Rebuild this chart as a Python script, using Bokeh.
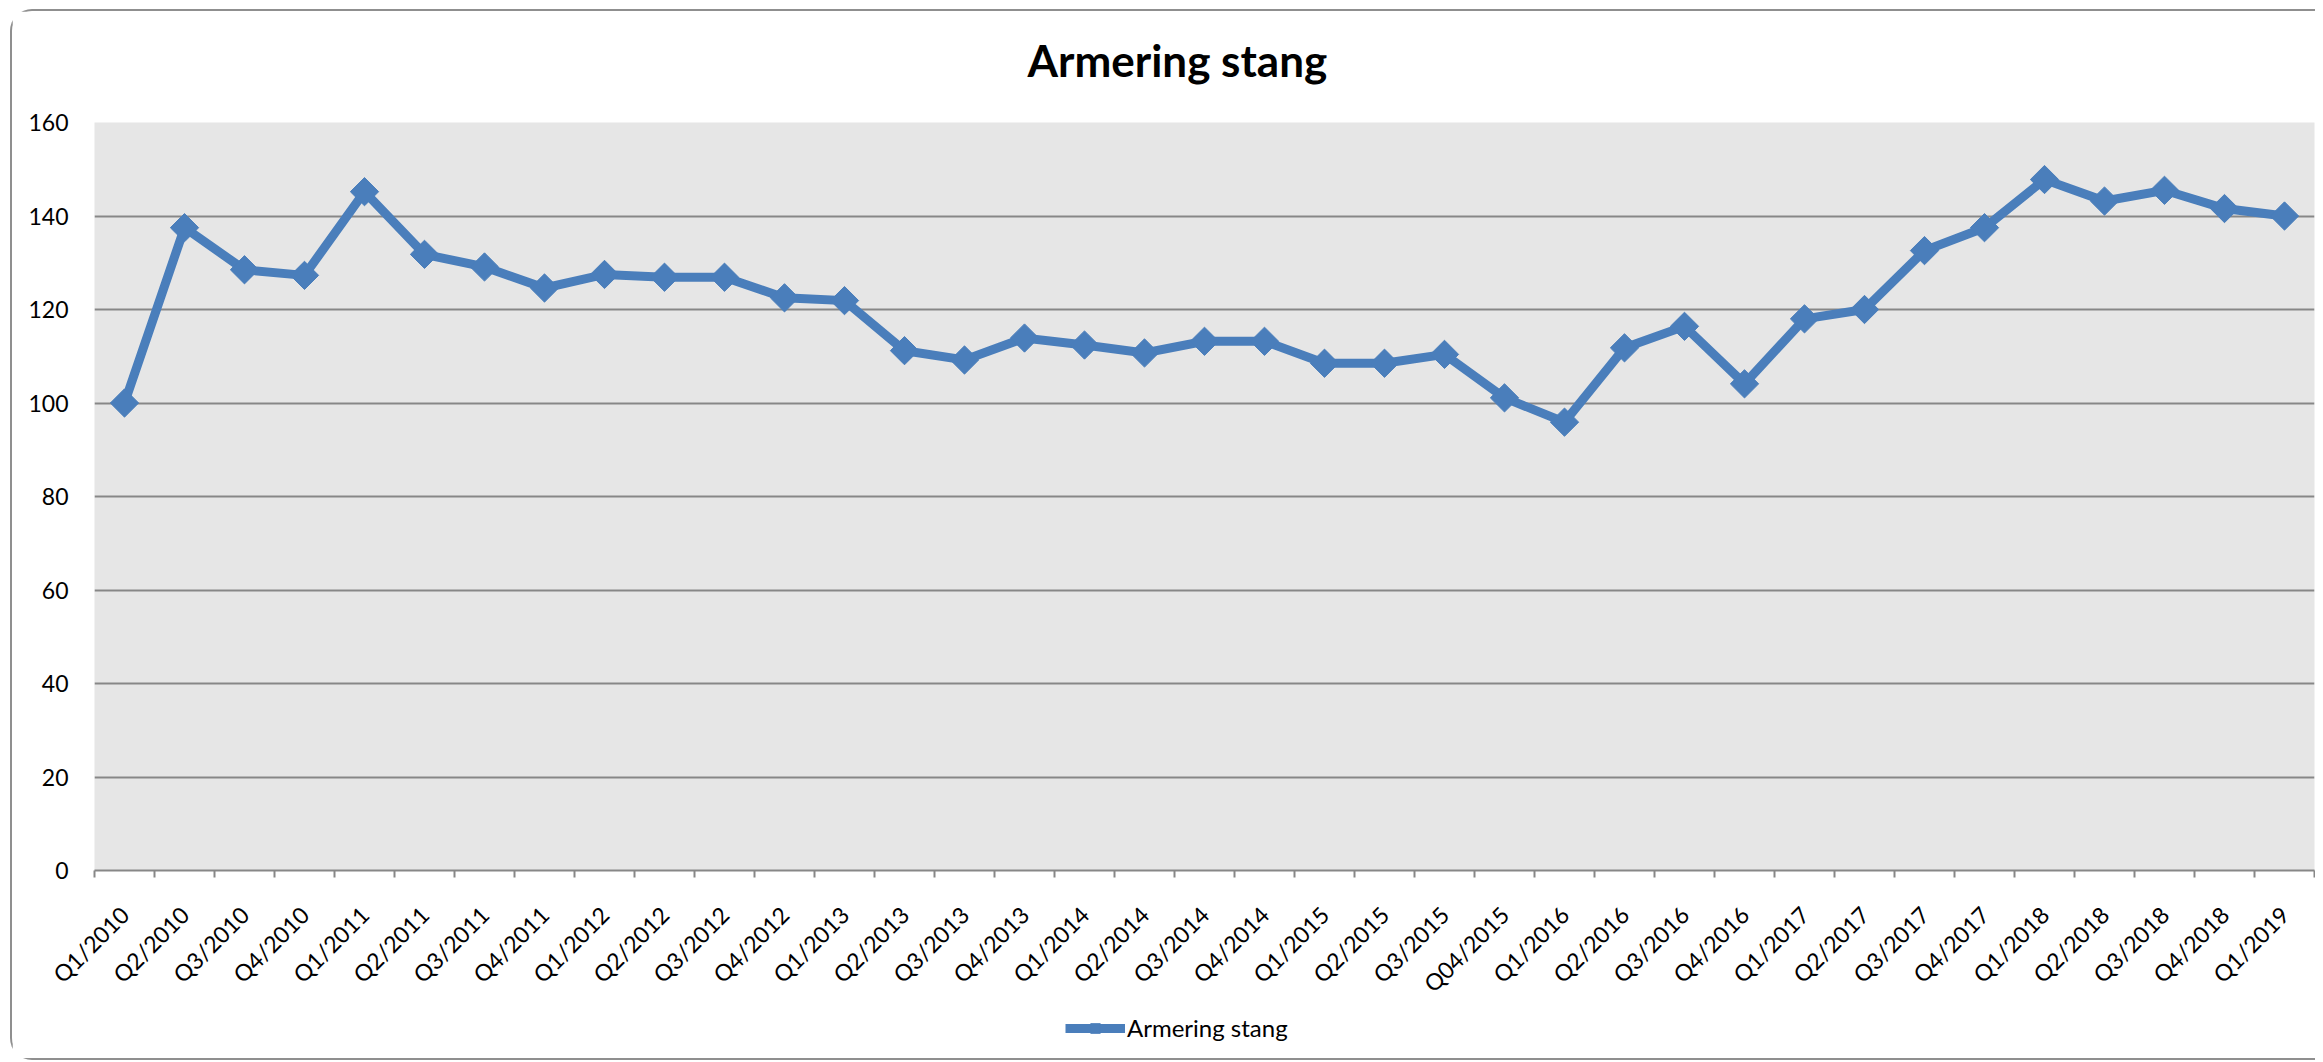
import math
from bokeh.plotting import figure
from bokeh.layouts import column
from bokeh.models import Range1d, FixedTicker, Legend, LegendItem, ColumnDataSource, Title
from bokeh.embed import file_html
from bokeh.resources import INLINE

title_text = "Armering stang"
series_name = "Armering stang"

quarters = [
    "Q1/2010", "Q2/2010", "Q3/2010", "Q4/2010",
    "Q1/2011", "Q2/2011", "Q3/2011", "Q4/2011",
    "Q1/2012", "Q2/2012", "Q3/2012", "Q4/2012",
    "Q1/2013", "Q2/2013", "Q3/2013", "Q4/2013",
    "Q1/2014", "Q2/2014", "Q3/2014", "Q4/2014",
    "Q1/2015", "Q2/2015", "Q3/2015", "Q04/2015",
    "Q1/2016", "Q2/2016", "Q3/2016", "Q4/2016",
    "Q1/2017", "Q2/2017", "Q3/2017", "Q4/2017",
    "Q1/2018", "Q2/2018", "Q3/2018", "Q4/2018",
    "Q1/2019",
]

values = [
    100.0, 137.5, 128.5, 127.3,
    145.2, 131.8, 129.1, 124.6,
    127.5, 126.9, 126.9, 122.5,
    121.9, 111.2, 109.2, 113.9,
    112.4, 110.7, 113.2, 113.2,
    108.5, 108.5, 110.4, 101.1,
    95.9, 111.8, 116.4, 104.1,
    118.0, 120.0, 132.6, 137.5,
    147.8, 143.2, 145.5, 141.6,
    140.0,
]

y_ticks = [0, 20, 40, 60, 80, 100, 120, 140, 160]

FONT = "Lato"
BLUE = "#4A7EBB"
GRID = "#878787"
W = 2303

idx = list(range(len(quarters)))
src = ColumnDataSource(data=dict(x=idx, y=values, q=quarters))

p = figure(
    width=W, height=999,
    output_backend="svg", toolbar_location=None, title_location=None,
    x_range=Range1d(-0.5, len(quarters) - 0.5),
    y_range=Range1d(y_ticks[0], y_ticks[-1]),
    min_border_left=82, min_border_right=1,
    min_border_top=111, min_border_bottom=140,
)

# spacer between the frame and the title, then the title itself
p.add_layout(Title(text=" ", text_font_size="1px", standoff=17), "above")
p.add_layout(Title(text=title_text, align="left", offset=933, text_font=FONT,
                   text_font_size="44px", text_font_style="bold",
                   text_color="black", standoff=34), "above")

p.background_fill_color = "#E6E6E6"
p.border_fill_color = "white"
p.outline_line_color = None

# grid
p.xgrid.grid_line_color = None
p.ygrid.grid_line_color = GRID
p.ygrid.grid_line_width = 2
p.ygrid.ticker = FixedTicker(ticks=y_ticks)

# y axis
p.yaxis.ticker = FixedTicker(ticks=y_ticks)
p.yaxis.axis_line_color = None
p.yaxis.major_tick_line_color = None
p.yaxis.minor_tick_line_color = None
p.yaxis.major_tick_out = 0
p.yaxis.major_tick_in = 0
p.yaxis.minor_tick_out = 0
p.yaxis.major_label_standoff = 26
p.yaxis.major_label_text_font = FONT
p.yaxis.major_label_text_font_size = "23px"
p.yaxis.major_label_text_color = "black"

# x axis: labels at category centres, tick marks between categories
p.xaxis.ticker = FixedTicker(ticks=idx, minor_ticks=[i - 0.5 for i in range(len(quarters) + 1)])
p.xaxis.major_label_overrides = {i: q for i, q in zip(idx, quarters)}
p.xaxis.major_label_orientation = math.pi / 4
p.xaxis.major_label_text_font = FONT
p.xaxis.major_label_text_font_size = "23px"
p.xaxis.major_label_text_color = "black"
p.xaxis.major_label_standoff = 33
p.xaxis.major_tick_line_color = None
p.xaxis.major_tick_out = 0
p.xaxis.major_tick_in = 0
p.xaxis.minor_tick_line_color = GRID
p.xaxis.minor_tick_line_width = 2
p.xaxis.minor_tick_out = 7
p.xaxis.minor_tick_in = 0
p.xaxis.axis_line_color = GRID
p.xaxis.axis_line_width = 2

p.line("x", "y", source=src, line_color=BLUE, line_width=9, line_join="miter")
p.scatter("x", "y", source=src, marker="square", angle=math.pi / 4, size=20,
          fill_color=BLUE, line_color=BLUE)

# legend strip below the chart (its frame is aligned with the chart's frame)
p2 = figure(
    width=W, height=48,
    output_backend="svg", toolbar_location=None,
    x_axis_type=None, y_axis_type=None,
    min_border_left=82, min_border_right=1, min_border_top=0, min_border_bottom=0,
)
p2.outline_line_color = None
p2.background_fill_color = "white"
p2.border_fill_color = "white"
p2.grid.visible = False
lr = p2.line("x", "y", source=src, line_color=BLUE, line_width=9, visible=False)
lm = p2.scatter("x", "y", source=src, marker="square", angle=math.pi / 4, size=11,
                fill_color=BLUE, line_color=BLUE, visible=False)

legend = Legend(items=[LegendItem(label=series_name, renderers=[lr, lm])],
                location=(971, 16), orientation="horizontal")
legend.label_text_font = FONT
legend.label_text_font_size = "24px"
legend.label_text_color = "black"
legend.glyph_width = 60
legend.glyph_height = 24
legend.label_standoff = 2
legend.border_line_color = None
legend.background_fill_alpha = 0
legend.inactive_fill_alpha = 0
legend.margin = 0
legend.padding = 2
p2.add_layout(legend)

layout = column(p, p2, spacing=0)
layout.styles = {
    "margin-left": "10px",
    "margin-top": "9px",
    "border-left": "2px solid #8f8f8f",
    "border-top": "2px solid #8f8f8f",
    "border-bottom": "2px solid #8f8f8f",
    "border-top-left-radius": "22px",
    "border-bottom-left-radius": "22px",
}

open("out.html", "w").write(file_html(layout, INLINE))
